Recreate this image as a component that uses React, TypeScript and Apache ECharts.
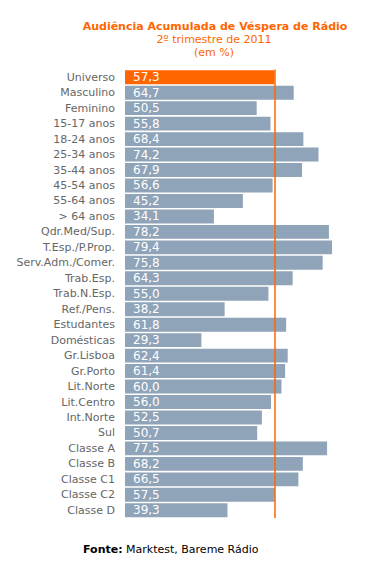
import React, { useEffect, useRef } from "react";
import * as echarts from "echarts";

const categories = [
  "Universo", "Masculino", "Feminino", "15-17 anos", "18-24 anos", "25-34 anos",
  "35-44 anos", "45-54 anos", "55-64 anos", "> 64 anos", "Qdr.Med/Sup.",
  "T.Esp./P.Prop.", "Serv.Adm./Comer.", "Trab.Esp.", "Trab.N.Esp.", "Ref./Pens.",
  "Estudantes", "Domésticas", "Gr.Lisboa", "Gr.Porto", "Lit.Norte", "Lit.Centro",
  "Int.Norte", "Sul", "Classe A", "Classe B", "Classe C1", "Classe C2", "Classe D",
];
const values = [
  57.3, 64.7, 50.5, 55.8, 68.4, 74.2, 67.9, 56.6, 45.2, 34.1, 78.2, 79.4, 75.8,
  64.3, 55.0, 38.2, 61.8, 29.3, 62.4, 61.4, 60.0, 56.0, 52.5, 50.7, 77.5, 68.2,
  66.5, 57.5, 39.3,
];
const referenceValue = 57.3;
const titleText = "Audiência Acumulada de Véspera de Rádio";
const subtitleText = "2º trimestre de 2011";
const unitText = "(em %)";

export default function App() {
  const ref = useRef<HTMLDivElement>(null);
  useEffect(() => {
    document.body.style.margin = "0";
    const chart = echarts.init(ref.current!, null, { renderer: "svg" });
    const font = "Verdana, 'DejaVu Sans', sans-serif";
    chart.setOption({
      animation: false,
      backgroundColor: "#ffffff",
      title: [
        { text: titleText, left: 210, top: 16, textAlign: "center",
          textStyle: { color: "#FF6600", fontSize: 11, fontWeight: "bold", fontFamily: font } },
        { text: subtitleText, left: 209, top: 29, textAlign: "center",
          textStyle: { color: "#FF6600", fontSize: 11, fontWeight: "normal", fontFamily: font } },
        { text: unitText, left: 209, top: 42, textAlign: "center",
          textStyle: { color: "#FF6600", fontSize: 11, fontWeight: "normal", fontFamily: font } },
        { text: "{b|Fonte:} {n|Marktest, Bareme Rádio}", left: 78, top: 539,
          textStyle: { color: "#000", fontSize: 11, fontWeight: "normal", fontFamily: font,
            rich: {
              b: { fontWeight: "bold", fontSize: 11, color: "#000", fontFamily: font },
              n: { fontWeight: "normal", fontSize: 11, color: "#000", fontFamily: font },
            } } },
      ],
      grid: { left: 125, top: 69.5, width: 208.6, height: 448.5, containLabel: false },
      xAxis: { type: "value", min: 0, max: 80, show: false },
      yAxis: {
        type: "category", data: categories, inverse: true,
        axisLine: { show: false }, axisTick: { show: false },
        axisLabel: { color: "#666", fontSize: 11, fontFamily: font, margin: 10 },
      },
      series: [
        {
          type: "bar",
          data: values.map((v, i) => ({
            value: v,
            itemStyle: { color: i === 0 ? "#FF6600" : "#8FA3B9" },
          })),
          barCategoryGap: "10%",
          label: {
            show: true, position: "insideLeft", distance: 8, color: "#fff",
            fontSize: 12, fontFamily: font,
            formatter: (p: any) => p.value.toFixed(1).replace(".", ","),
          },
          markLine: {
            silent: true, symbol: "none", label: { show: false },
            lineStyle: { color: "#FF6600", width: 1.5, type: "solid" },
            data: [{ xAxis: referenceValue }],
          },
        },
      ],
    });
    return () => chart.dispose();
  }, []);
  return <div ref={ref} style={{ width: 368, height: 566, position: "fixed", left: 0, top: 0 }} />;
}
